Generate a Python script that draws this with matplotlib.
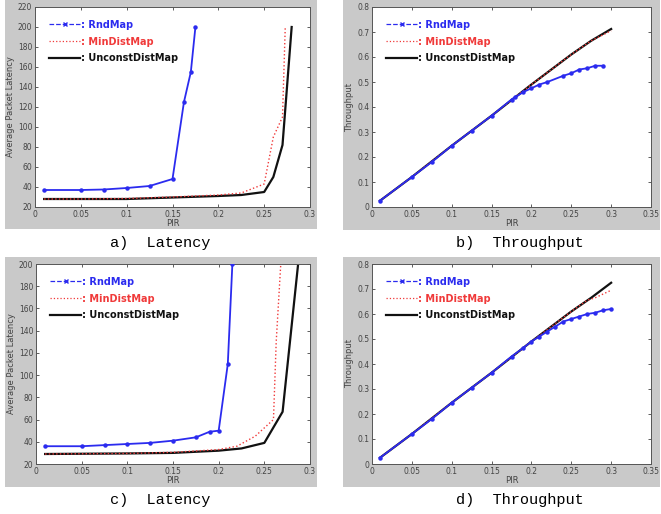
import matplotlib.pyplot as plt
from matplotlib.patches import Rectangle
from matplotlib.lines import Line2D

# ---- data ----
# a) latency
a_rnd_x = [0.01, 0.05, 0.075, 0.1, 0.125, 0.15, 0.1625, 0.17, 0.175]
a_rnd_y = [37, 37, 37.5, 39, 41, 48, 125, 155, 200]
a_min_x = [0.01, 0.05, 0.1, 0.15, 0.2, 0.225, 0.25, 0.26, 0.27, 0.273]
a_min_y = [28, 28, 28.5, 30, 32, 34, 43, 90, 110, 200]
a_unc_x = [0.01, 0.05, 0.1, 0.15, 0.2, 0.225, 0.25, 0.26, 0.27, 0.28]
a_unc_y = [28, 28, 28, 29.5, 31, 32, 35, 50, 82, 200]

# b) throughput
b_rnd_x = [0.01, 0.05, 0.075, 0.1, 0.125, 0.15, 0.175, 0.18, 0.19, 0.2, 0.21, 0.22,
           0.24, 0.25, 0.26, 0.27, 0.28, 0.29]
b_rnd_y = [0.025, 0.12, 0.18, 0.245, 0.305, 0.365, 0.43, 0.44, 0.46, 0.475, 0.49, 0.50,
           0.525, 0.535, 0.55, 0.555, 0.565, 0.565]
b_min_x = [0.01, 0.05, 0.1, 0.15, 0.2, 0.225, 0.25, 0.275, 0.3]
b_min_y = [0.025, 0.12, 0.245, 0.365, 0.49, 0.55, 0.61, 0.665, 0.705]
b_unc_x = [0.01, 0.05, 0.1, 0.15, 0.2, 0.225, 0.25, 0.275, 0.3]
b_unc_y = [0.025, 0.12, 0.245, 0.365, 0.49, 0.55, 0.61, 0.665, 0.712]

# c) latency
c_rnd_x = [0.01, 0.05, 0.075, 0.1, 0.125, 0.15, 0.175, 0.19, 0.2, 0.21, 0.215]
c_rnd_y = [36, 36, 37, 38, 39, 41, 44, 49, 50, 110, 200]
c_min_x = [0.01, 0.1, 0.15, 0.2, 0.22, 0.24, 0.26, 0.263, 0.268]
c_min_y = [29, 29.5, 30.5, 33, 36, 45, 60, 130, 200]
c_unc_x = [0.01, 0.1, 0.15, 0.2, 0.225, 0.25, 0.27, 0.287]
c_unc_y = [29, 29.5, 30, 32, 34, 39, 67, 200]

# d) throughput
d_rnd_x = [0.01, 0.05, 0.075, 0.1, 0.125, 0.15, 0.175, 0.19, 0.2, 0.21, 0.22, 0.23,
           0.24, 0.25, 0.26, 0.27, 0.28, 0.29, 0.3]
d_rnd_y = [0.025, 0.12, 0.18, 0.245, 0.305, 0.365, 0.43, 0.465, 0.49, 0.51, 0.53, 0.55,
           0.57, 0.58, 0.59, 0.60, 0.605, 0.615, 0.62]
d_min_x = [0.01, 0.05, 0.1, 0.15, 0.2, 0.225, 0.25, 0.27, 0.28, 0.3]
d_min_y = [0.025, 0.12, 0.245, 0.365, 0.49, 0.55, 0.61, 0.655, 0.665, 0.695]
d_unc_x = [0.01, 0.05, 0.1, 0.15, 0.2, 0.225, 0.25, 0.275, 0.3]
d_unc_y = [0.025, 0.12, 0.245, 0.365, 0.49, 0.55, 0.61, 0.665, 0.725]

captions = ["a)  Latency", "b)  Throughput", "c)  Latency", "d)  Throughput"]

BLUE = "#2b2bef"
RED = "#f03a3a"
BLACK = "#111111"
GREY = "#c9c9c9"

W, H = 661, 514
fig = plt.figure(figsize=(W / 100, H / 100), dpi=100)
fig.patch.set_facecolor("white")


def box(l, t, r, b):
    return [l / W, 1 - b / H, (r - l) / W, (b - t) / H]


# grey panel backgrounds
for l, t, r, b in [(5, 0, 317, 229), (343, 0, 660, 230), (5, 257, 317, 487), (343, 257, 660, 487)]:
    fig.patches.append(Rectangle((l / W, 1 - b / H), (r - l) / W, (b - t) / H,
                                 transform=fig.transFigure, facecolor=GREY,
                                 edgecolor="none", zorder=-5))

panels = [
    (box(35, 7, 310, 207), (a_rnd_x, a_rnd_y), (a_min_x, a_min_y), (a_unc_x, a_unc_y),
     "lat", (0, 0.3), (20, 220)),
    (box(372, 7, 651, 207), (b_rnd_x, b_rnd_y), (b_min_x, b_min_y), (b_unc_x, b_unc_y),
     "thr", (0, 0.35), (0, 0.8)),
    (box(36, 264, 310, 464), (c_rnd_x, c_rnd_y), (c_min_x, c_min_y), (c_unc_x, c_unc_y),
     "lat", (0, 0.3), (20, 200)),
    (box(372, 264, 651, 464), (d_rnd_x, d_rnd_y), (d_min_x, d_min_y), (d_unc_x, d_unc_y),
     "thr", (0, 0.35), (0, 0.8)),
]

for rect, rnd, mn, unc, kind, xlim, ylim in panels:
    ax = fig.add_axes(rect)
    ax.plot(unc[0], unc[1], color=BLACK, lw=1.6, zorder=2)
    ax.plot(mn[0], mn[1], color=RED, lw=1.0, ls=":", zorder=3)
    ax.plot(rnd[0], rnd[1], color=BLUE, lw=1.3, marker="o", ms=2.2, zorder=4)
    ax.set_xlim(*xlim)
    ax.set_ylim(*ylim)
    if kind == "lat":
        ax.set_xticks([0, 0.05, 0.1, 0.15, 0.2, 0.25, 0.3])
        ax.set_xticklabels(["0", "0.05", "0.1", "0.15", "0.2", "0.25", "0.3"])
        ax.set_yticks(range(ylim[0], ylim[1] + 1, 20))
        ax.set_ylabel("Average Packet Latency", fontsize=6, color="#444444", labelpad=2)
    else:
        ax.set_xticks([0, 0.05, 0.1, 0.15, 0.2, 0.25, 0.3, 0.35])
        ax.set_xticklabels(["0", "0.05", "0.1", "0.15", "0.2", "0.25", "0.3", "0.35"])
        ax.set_yticks([0, 0.1, 0.2, 0.3, 0.4, 0.5, 0.6, 0.7, 0.8])
        ax.set_yticklabels(["0", "0.1", "0.2", "0.3", "0.4", "0.5", "0.6", "0.7", "0.8"])
        ax.set_ylabel("Throughput", fontsize=6, color="#444444", labelpad=2)
    ax.set_xlabel("PIR", fontsize=6, color="#444444", labelpad=0)
    ax.tick_params(direction="in", length=2.5, width=0.6, labelsize=5.5,
                   colors="#444444", top=True, right=True, pad=2)
    for s in ax.spines.values():
        s.set_linewidth(0.7)
        s.set_color("#555555")

    handles = [
        Line2D([], [], color=BLUE, lw=0.9, ls="--", marker="x", ms=3, markevery=[1, 2, 3]),
        Line2D([], [], color=RED, lw=0.9, ls=":"),
        Line2D([], [], color=BLACK, lw=1.6),
    ]
    leg = ax.legend(handles, [": RndMap", ": MinDistMap", ": UnconstDistMap"],
                    loc="upper left", bbox_to_anchor=(0.02, 0.98), frameon=False,
                    handlelength=3.2, handletextpad=0.1, labelspacing=0.7,
                    prop={"size": 7, "weight": "bold"})
    for t, c in zip(leg.get_texts(), [BLUE, RED, BLACK]):
        t.set_color(c)

for (cx, cy), cap in zip([(160, 243), (520, 243), (160, 500), (520, 500)], captions):
    fig.text(cx / W, 1 - cy / H, cap, ha="center", va="center",
             fontsize=11, family="Liberation Mono")

fig.savefig("out.png", dpi=100)
